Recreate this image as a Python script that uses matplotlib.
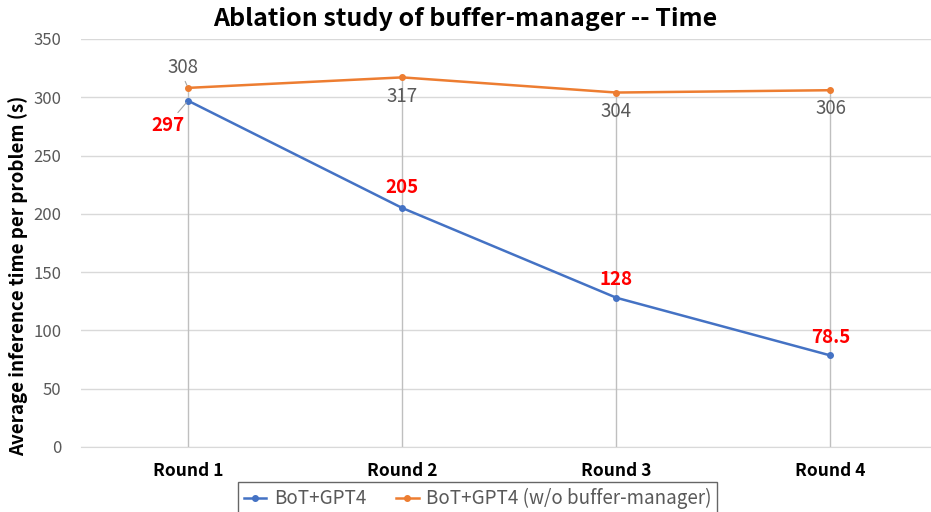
import matplotlib.pyplot as plt

plt.rcParams["font.family"] = ["Noto Sans CJK SC", "DejaVu Sans"]

rounds = ["Round 1", "Round 2", "Round 3", "Round 4"]
bot_gpt4 = [297, 205, 128, 78.5]
bot_gpt4_no_buffer = [308, 317, 304, 306]
bot_labels = ["297", "205", "128", "78.5"]
nobuf_labels = ["308", "317", "304", "306"]

BLUE = "#4472C4"
ORANGE = "#ED7D31"

fig = plt.figure(figsize=(9.31, 5.12), dpi=100)
ax = fig.add_axes([0.087, 0.127, 0.92, 0.797])

xs = list(range(len(rounds)))

# drop lines from the higher point down to zero
for x, a, b in zip(xs, bot_gpt4, bot_gpt4_no_buffer):
    ax.vlines(x, 0, max(a, b), color="#BFBFBF", linewidth=1, zorder=1)

ax.plot(xs, bot_gpt4, color=BLUE, marker="o", markersize=4, linewidth=1.8,
        label="BoT+GPT4", zorder=3)
ax.plot(xs, bot_gpt4_no_buffer, color=ORANGE, marker="o", markersize=4, linewidth=1.8,
        label="BoT+GPT4 (w/o buffer-manager)", zorder=3)

# data labels (pixel offsets)
nobuf_offsets = [(-5, 20), (0, -19), (0, -19), (0, -18)]
bot_offsets = [(-20, -25), (0, 20), (0, 18), (0, 18)]
for i, (x, y) in enumerate(zip(xs, bot_gpt4_no_buffer)):
    dx, dy = nobuf_offsets[i]
    ax.annotate(nobuf_labels[i], (x, y), xytext=(dx, dy), textcoords="offset pixels",
                ha="center", va="center", fontsize=13.5, color="#595959")
for i, (x, y) in enumerate(zip(xs, bot_gpt4)):
    dx, dy = bot_offsets[i]
    ax.annotate(bot_labels[i], (x, y), xytext=(dx, dy), textcoords="offset pixels",
                ha="center", va="center", fontsize=13.5, color="#FF0000",
                fontweight="bold")

# leader lines for the first round
ax.annotate("", (0, bot_gpt4[0]), xytext=(-12, -14), textcoords="offset pixels",
            arrowprops=dict(arrowstyle="-", color="#A6A6A6", lw=0.8))
ax.annotate("", (0, bot_gpt4_no_buffer[0]), xytext=(-4, 9), textcoords="offset pixels",
            arrowprops=dict(arrowstyle="-", color="#A6A6A6", lw=0.8))

ax.set_xlim(-0.5, len(rounds) - 0.5)
ax.set_ylim(0, 350)
ax.set_yticks(range(0, 351, 50))
ax.set_xticks(xs)
ax.set_xticklabels(rounds, fontsize=12.5, fontweight="bold", color="black")
ax.tick_params(axis="y", labelsize=12, labelcolor="#595959", length=0, pad=14)
ax.tick_params(axis="x", length=0, pad=11)
ax.yaxis.grid(True, color="#D9D9D9", linewidth=1)
ax.set_axisbelow(True)
for side in ["top", "right", "left"]:
    ax.spines[side].set_visible(False)
ax.spines["bottom"].set_color("#D9D9D9")

fig.text(18 / 931, 1 - 276 / 512, "Average inference time per problem (s)", rotation=90,
         ha="center", va="center", fontsize=13.5, fontweight="bold")
fig.suptitle("Ablation study of buffer-manager -- Time", fontsize=18, fontweight="bold",
             x=0.5, y=1 - 19 / 512, va="center")

fig.legend(loc="upper center", bbox_to_anchor=(0.513, 0.058), ncol=2, fontsize=13.5,
           frameon=True, fancybox=False, edgecolor="#404040", labelcolor="#595959",
           handlelength=1.2, handletextpad=0.4, columnspacing=1.6, borderaxespad=0,
           borderpad=0.3)

fig.savefig("out.png", dpi=100)
